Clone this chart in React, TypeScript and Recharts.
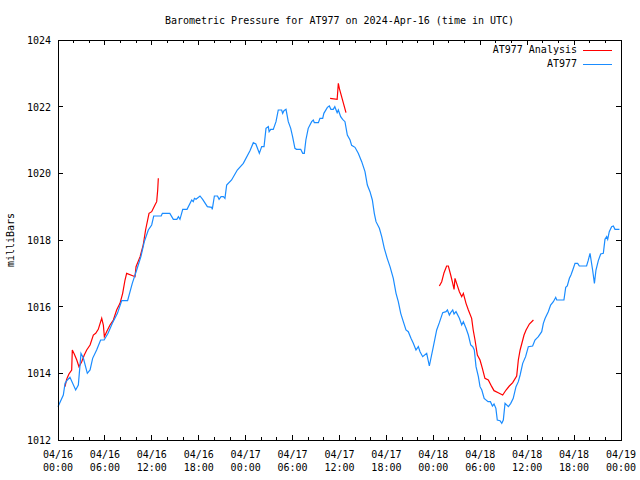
import { Line, LineChart, XAxis, YAxis } from "recharts";

const TITLE = "Barometric Pressure for AT977 on 2024-Apr-16 (time in UTC)";
const Y_LABEL = "milliBars";
const ANALYSIS_NAME = "AT977 Analysis";
const STATION_NAME = "AT977";

const RED = "#ff0000";
const BLUE = "#1a8cff";
const FONT = "'DejaVu Sans Mono', monospace";

// hours since 04/16 00:00 UTC
const xTicks = Array.from({ length: 37 }, (_, i) => i * 2);
const yTicks = [1012, 1014, 1016, 1018, 1020, 1022, 1024];

const stationHours = [
  0.0, 0.68, 0.9, 1.2, 1.53, 2.26, 2.6, 2.94, 3.24, 3.75, 4.1, 4.43, 4.94, 5.45, 5.9, 6.4, 6.95, 7.6, 8.15, 8.9,
  9.5, 10.06, 10.6, 11.04, 11.55, 11.98, 12.24, 13.2, 13.35, 14.3, 14.75, 15.2, 15.4, 15.6, 15.95, 16.5, 17.1,
  17.3, 17.45, 17.65, 18.16, 18.5, 19.1, 19.65, 19.73, 20.0, 20.4, 20.6, 20.85, 21.15, 21.35, 21.57, 22.2, 22.93,
  23.7, 24.55, 24.98, 25.3, 25.75, 26.05, 26.35, 26.6, 26.9, 27.0, 27.2, 27.53, 27.88, 28.17, 28.6, 28.73, 28.9,
  29.16, 29.45, 29.76, 30.0, 30.3, 30.5, 31.04, 31.3, 31.5, 31.7, 32.0, 32.44, 32.65, 32.78, 33.3, 33.5, 33.85,
  34.0, 34.45, 34.7, 34.9, 35.2, 35.4, 35.7, 35.85, 36.15, 36.4, 36.7, 37.0, 37.35, 37.55, 37.98, 38.4, 38.84,
  39.26, 39.56, 39.9, 40.2, 40.45, 40.67, 41.1, 41.4, 41.73, 42.1, 42.46, 42.88, 43.23, 43.52, 43.83, 44.16,
  44.5, 44.8, 45.14, 45.44, 45.78, 46.08, 46.3, 46.64, 47.15, 47.49, 48.0, 48.43, 48.77, 49.2, 49.62, 49.8,
  50.05, 50.22, 50.48, 50.65, 50.9, 51.33, 51.63, 51.84, 52.18, 52.48, 52.78, 53.04, 53.24, 53.46, 53.76, 53.97,
  54.2, 54.5, 55.0, 55.3, 55.56, 55.76, 56.0, 56.18, 56.53, 56.75, 56.95, 57.17, 57.6, 57.9, 58.22, 58.57, 58.87,
  59.1, 59.43, 59.8, 60.15, 60.7, 61.0, 61.43, 61.86, 62.07, 62.3, 62.7, 63.0, 63.35, 63.65, 63.78, 64.7, 64.93,
  65.13, 65.4, 65.6, 65.83, 66.12, 66.46, 66.67, 67.6, 67.8, 68.04, 68.37, 68.6, 68.8, 69.1, 69.4, 69.74, 69.95,
  70.17, 70.3, 70.5, 70.8, 71.02, 71.23, 71.8,
];

const stationMb = [
  1013.0, 1013.35, 1013.7, 1013.8, 1013.88, 1013.5, 1013.65, 1014.6, 1014.46, 1014.0, 1014.1, 1014.45, 1014.7,
  1015.0, 1015.0, 1015.2, 1015.5, 1015.8, 1016.18, 1016.18, 1016.7, 1017.1, 1017.5, 1017.95, 1018.3, 1018.45,
  1018.72, 1018.72, 1018.8, 1018.8, 1018.62, 1018.62, 1018.7, 1018.62, 1018.92, 1018.92, 1019.2, 1019.15, 1019.25,
  1019.22, 1019.32, 1019.22, 1019.0, 1018.98, 1018.92, 1019.32, 1019.32, 1019.22, 1019.3, 1019.3, 1019.25,
  1019.65, 1019.8, 1020.1, 1020.3, 1020.68, 1020.92, 1020.88, 1020.6, 1020.8, 1020.8, 1021.35, 1021.4, 1021.25,
  1021.32, 1021.32, 1021.55, 1021.9, 1021.9, 1021.8, 1021.88, 1021.92, 1021.55, 1021.35, 1021.1, 1020.75,
  1020.72, 1020.72, 1020.6, 1020.6, 1021.0, 1021.35, 1021.55, 1021.6, 1021.52, 1021.52, 1021.65, 1021.65,
  1021.8, 1021.98, 1022.02, 1021.92, 1021.92, 1022.0, 1021.82, 1021.9, 1021.7, 1021.62, 1021.55, 1021.15,
  1021.0, 1020.84, 1020.78, 1020.6, 1020.35, 1020.05, 1019.65, 1019.45, 1019.2, 1018.8, 1018.55, 1018.35,
  1018.1, 1017.75, 1017.45, 1017.2, 1016.85, 1016.4, 1016.15, 1015.8, 1015.55, 1015.3, 1015.25, 1015.05,
  1014.9, 1014.7, 1014.8, 1014.65, 1014.5, 1014.6, 1014.22, 1014.8, 1015.3, 1015.52, 1015.82, 1015.85, 1015.9,
  1015.75, 1015.82, 1015.9, 1015.78, 1015.85, 1015.65, 1015.45, 1015.55, 1015.35, 1015.15, 1014.85, 1014.8,
  1014.7, 1014.2, 1013.9, 1013.6, 1013.5, 1013.25, 1013.15, 1013.15, 1013.02, 1013.08, 1012.95, 1012.6,
  1012.58, 1012.5, 1012.6, 1013.1, 1013.0, 1013.1, 1013.25, 1013.6, 1013.75, 1013.95, 1014.3, 1014.5, 1014.8,
  1014.82, 1015.0, 1015.1, 1015.25, 1015.5, 1015.65, 1015.85, 1016.05, 1016.15, 1016.28, 1016.2, 1016.2,
  1016.58, 1016.62, 1016.85, 1016.95, 1017.1, 1017.3, 1017.3, 1017.22, 1017.22, 1017.38, 1017.6, 1017.1,
  1016.7, 1017.1, 1017.38, 1017.58, 1017.6, 1018.02, 1018.1, 1018.02, 1018.25, 1018.4, 1018.42, 1018.32,
  1018.32,
];

// null values split the analysis into its three pieces
const analysisHours = [
  0.9, 1.1, 1.4, 1.75, 1.83, 2.08, 2.4, 2.68, 3.03, 3.36, 3.67, 4.1, 4.52, 4.82, 5.15, 5.59, 5.8, 5.93, 6.22,
  6.65, 7.08, 7.5, 7.93, 8.27, 8.57, 8.78, 9.63, 9.85, 9.98, 10.5, 10.9, 11.2, 11.64, 11.98, 12.4, 12.62, 12.75,
  12.83, 20, 34.8, 35.7, 35.85, 35.98, 36.83, 42, 48.77, 49.07, 49.37, 49.7, 49.92, 50.22, 50.48, 50.65, 50.77,
  50.98, 51.33, 51.63, 51.84, 52.18, 52.48, 52.9, 53.1, 53.33, 53.63, 53.97, 54.27, 54.6, 55.03, 55.47, 55.76,
  56.3, 56.87, 57.3, 57.72, 58.15, 58.66, 58.87, 59.1, 59.3, 59.6, 59.86, 60.28, 60.8,
];

const analysisMb = [
  1013.6, 1013.82, 1013.98, 1014.1, 1014.7, 1014.58, 1014.4, 1014.2, 1014.35, 1014.55, 1014.7, 1014.85,
  1015.15, 1015.2, 1015.32, 1015.65, 1015.45, 1015.1, 1015.25, 1015.45, 1015.6, 1015.9, 1016.1, 1016.4,
  1016.8, 1017.0, 1016.92, 1016.9, 1017.2, 1017.5, 1017.85, 1018.3, 1018.8, 1018.85, 1019.05, 1019.15, 1019.5,
  1019.85, null, 1022.25, 1022.22, 1022.7, 1022.55, 1021.82, null, 1016.62, 1016.75, 1017.02, 1017.22,
  1017.22, 1016.95, 1016.7, 1016.52, 1016.85, 1016.7, 1016.45, 1016.3, 1016.4, 1016.1, 1015.9, 1015.65, 1015.3,
  1015.0, 1014.55, 1014.4, 1014.15, 1013.85, 1013.8, 1013.6, 1013.48, 1013.42, 1013.35, 1013.5, 1013.62,
  1013.72, 1013.92, 1014.4, 1014.7, 1014.88, 1015.15, 1015.3, 1015.48, 1015.6,
];

const station = stationHours.map((h, i) => ({ h, mb: stationMb[i] }));
const analysis = analysisHours.map((h, i) => ({ h, mb: analysisMb[i] }));

// chart layout
const W = 640;
const H = 480;
const MARGIN = { top: 40, right: 19, bottom: 0, left: 0 };
const Y_AXIS_W = 58;
const X_AXIS_H = 40;
const PLOT_TOP = MARGIN.top;
const PLOT_RIGHT = W - MARGIN.right;
const X_MAX = 72;
const Y_MAX = 1024;

function dayLabel(h: number) {
  const day = 16 + Math.floor(h / 24);
  const hr = h % 24;
  return [`04/${String(day)}`, `${String(hr).padStart(2, "0")}:00`];
}

// bottom ticks also draw the mirrored top ticks (gnuplot border style)
function BottomTick({ x, y, payload }: any) {
  const h = payload.value as number;
  const major = h % 6 === 0;
  const len = major ? 5 : 3;
  const [d, t] = dayLabel(h);
  return (
    <g shapeRendering="crispEdges">
      <line x1={x} x2={x} y1={y} y2={y - len} stroke="#000" />
      <line x1={x} x2={x} y1={PLOT_TOP} y2={PLOT_TOP + len} stroke="#000" />
      {h === X_MAX && <line x1={x} x2={x} y1={PLOT_TOP} y2={y} stroke="#000" />}
      {major && (
        <text x={x} y={y + 18} textAnchor="middle" fontSize={10} fontFamily={FONT} fill="#000">
          {d}
        </text>
      )}
      {major && (
        <text x={x} y={y + 31} textAnchor="middle" fontSize={10} fontFamily={FONT} fill="#000">
          {t}
        </text>
      )}
    </g>
  );
}

function LeftTick({ x, y, payload }: any) {
  return (
    <g shapeRendering="crispEdges">
      <line x1={x} x2={x + 5} y1={y} y2={y} stroke="#000" />
      <line x1={PLOT_RIGHT} x2={PLOT_RIGHT - 5} y1={y} y2={y} stroke="#000" />
      {payload.value === Y_MAX && <line x1={x} x2={PLOT_RIGHT} y1={y} y2={y} stroke="#000" />}
      <text x={x - 7} y={y + 4} textAnchor="end" fontSize={10} fontFamily={FONT} fill="#000">
        {payload.value}
      </text>
    </g>
  );
}

const axisLine = { stroke: "#000", shapeRendering: "crispEdges" };

export default function App() {
  return (
    <div style={{ position: "relative", width: W, height: H, background: "#fff", fontFamily: FONT }}>
      <style>{"body{margin:0}"}</style>
      <LineChart width={W} height={H} margin={MARGIN}>
        <XAxis
          dataKey="h"
          type="number"
          domain={[0, X_MAX]}
          ticks={xTicks}
          interval={0}
          height={X_AXIS_H}
          tickSize={0}
          tickMargin={0}
          tickLine={false}
          axisLine={axisLine}
          tick={<BottomTick />}
        />
        <YAxis
          type="number"
          domain={[1012, Y_MAX]}
          ticks={yTicks}
          interval={0}
          width={Y_AXIS_W}
          tickSize={0}
          tickMargin={0}
          tickLine={false}
          axisLine={axisLine}
          tick={<LeftTick />}
        />
        <Line
          data={analysis}
          dataKey="mb"
          name={ANALYSIS_NAME}
          type="linear"
          stroke={RED}
          strokeWidth={1.2}
          dot={false}
          connectNulls={false}
          isAnimationActive={false}
        />
        <Line
          data={station}
          dataKey="mb"
          name={STATION_NAME}
          type="linear"
          stroke={BLUE}
          strokeWidth={1.2}
          dot={false}
          isAnimationActive={false}
        />
      </LineChart>
      {/* plot border, drawn on top as a plain box */}
      <div
        style={{
          position: "absolute",
          left: Y_AXIS_W,
          top: PLOT_TOP,
          width: PLOT_RIGHT - Y_AXIS_W + 1,
          height: H - X_AXIS_H - PLOT_TOP + 1,
          border: "1px solid #000",
          boxSizing: "border-box",
          pointerEvents: "none",
        }}
      />
      <div style={{ position: "absolute", top: 15, left: 0, width: W, paddingLeft: 39, boxSizing: "border-box", textAlign: "center", fontSize: 10 }}>
        {TITLE}
      </div>
      <div
        style={{
          position: "absolute",
          left: 10,
          top: 240,
          fontSize: 10,
          transform: "translate(-50%, -50%) rotate(-90deg)",
          whiteSpace: "nowrap",
        }}
      >
        {Y_LABEL}
      </div>
      {[
        { name: ANALYSIS_NAME, color: RED, top: 44 },
        { name: STATION_NAME, color: BLUE, top: 58 },
      ].map((r) => (
        <div key={r.name} style={{ position: "absolute", top: r.top, right: 28, display: "flex", alignItems: "center", fontSize: 10 }}>
          <span style={{ lineHeight: "12px" }}>{r.name}</span>
          <span style={{ display: "inline-block", width: 29, height: 1, background: r.color, marginLeft: 6 }} />
        </div>
      ))}
    </div>
  );
}
